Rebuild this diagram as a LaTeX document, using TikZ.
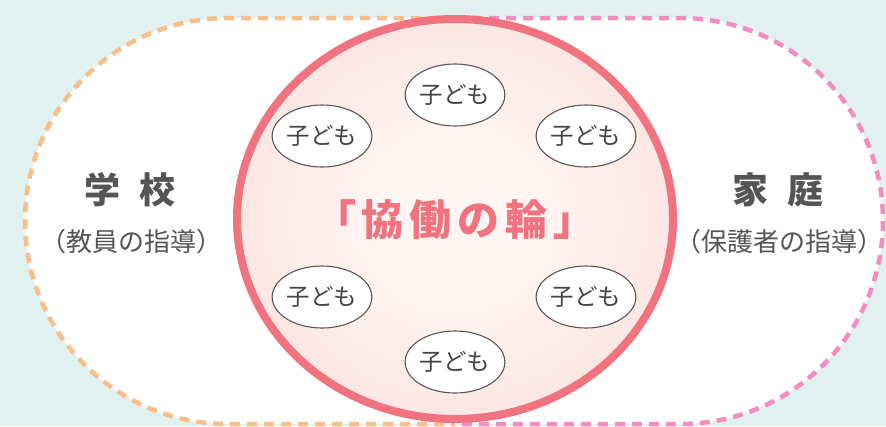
\documentclass[tikz,border=0pt]{standalone}
\usepackage{fontspec}
\usetikzlibrary{shapes.geometric}
\newfontfamily\jp{Noto Sans CJK JP}
\definecolor{bg}{HTML}{E1F1F0}
\definecolor{dashorange}{HTML}{FBBE8A}
\definecolor{dashpink}{HTML}{F38DBD}
\definecolor{ring}{HTML}{F0737F}
\definecolor{ringin}{HTML}{FFF6F4}
\definecolor{ringout}{HTML}{FBD6D1}
\definecolor{labelgray}{HTML}{555555}
\definecolor{kidgray}{HTML}{444444}
\pgfdeclareradialshading{ringfill}{\pgfpoint{0bp}{0bp}}{color(0bp)=(ringin); color(8bp)=(ringin); color(42bp)=(ringout); color(50bp)=(ringout)}
\tikzset{
  halfdash/.style={line width=4.5pt, dash pattern=on 10pt off 7pt, rounded corners=203pt},
  kid/.style={ellipse, draw=kidgray!90, line width=1.1pt, fill=white, minimum width=92pt, minimum height=62pt, inner sep=0pt, text=kidgray, font=\jp\fontsize{23.5}{27}\selectfont},
  bigl/.style={text=labelgray, font=\jp\bfseries\fontsize{36}{40}\selectfont, inner sep=0pt},
  smalll/.style={text=labelgray, font=\jp\fontsize{26}{30}\selectfont, inner sep=0pt},
}
\newcommand{\tsp}{\hspace{6pt}}
\begin{document}
\begin{tikzpicture}[x=1pt,y=-1pt]
\fill[bg] (0,0) rectangle (886,426);
\useasboundingbox (0,0) rectangle (886,426);
% stadium
\fill[white, rounded corners=203pt] (25,18) rectangle (883,424);
\coordinate (tm) at (455,18);
\coordinate (bm) at (455,424);
\draw[halfdash, draw=dashorange] (tm) -- (25,18) -- (25,424) -- (bm);
\draw[halfdash, draw=dashpink] (tm) -- (883,18) -- (883,424) -- (bm);
% ring
\node[ellipse, shading=ringfill, draw=ring, line width=8pt, minimum width=436pt, minimum height=400pt, inner sep=0pt] (ring) at (455,219) {};
\node[text=ring, font=\jp\bfseries\fontsize{42}{46}\selectfont, inner sep=0pt] (title) at (455,220) {「\tsp 協\tsp 働\tsp の\tsp 輪\tsp 」};
% children
\node[kid] (k1) at (455,95) {子ども};
\node[kid] (k2) at (322,136) {子ども};
\node[kid] (k3) at (586,136) {子ども};
\node[kid] (k4) at (322,297) {子ども};
\node[kid] (k5) at (586,297) {子ども};
\node[kid] (k6) at (455,362) {子ども};
% labels
\node[bigl] (school) at (130,190) {学\hspace{0.55em}校};
\node[smalll] (schoolsub) at (131,242) {（教員の指導）};
\node[bigl] (home) at (778,190) {家\hspace{0.55em}庭};
\node[smalll] (homesub) at (779,242) {（保護者の指導）};
\end{tikzpicture}
\end{document}
